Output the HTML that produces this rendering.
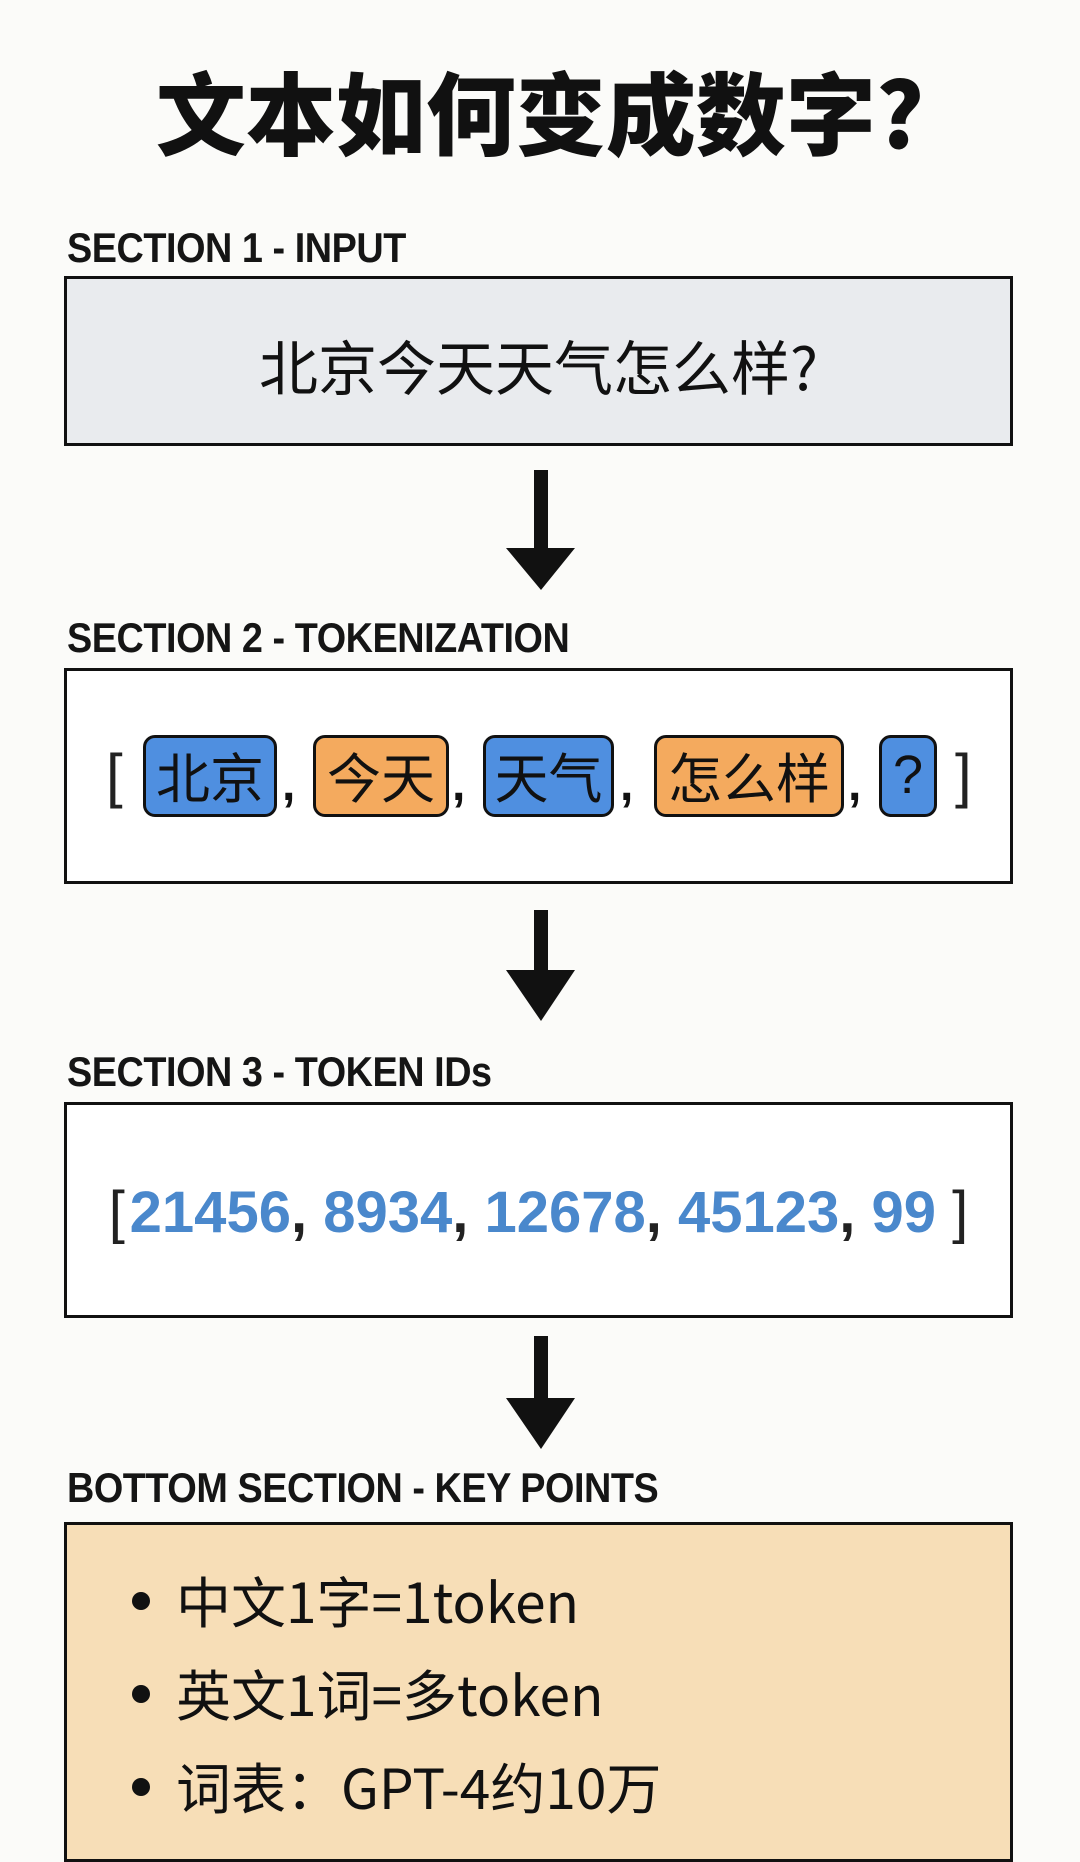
<!DOCTYPE html>
<html><head><meta charset="utf-8"><style>
body{margin:0;width:1080px;height:1839px;background:#fbfbf9;position:relative;overflow:hidden;font-family:"Liberation Sans","Noto Sans CJK SC",sans-serif;color:#111}
.a{position:absolute}
.title{left:0;width:1080px;top:56px;text-align:center;font:900 90px/106px "Noto Sans CJK SC",sans-serif;color:#111}
.lab{left:67px;font:bold 42px/44px "Liberation Sans",sans-serif;letter-spacing:-0.5px;color:#151515;transform:scaleX(0.9);transform-origin:left top;white-space:nowrap}
.box{left:64px;width:949px;border:3px solid #111;box-sizing:border-box}
.chip{top:735px;height:82px;border:3px solid #111;border-radius:12px;box-sizing:border-box;font:54px/74px "Noto Sans CJK SC",sans-serif;text-align:center;color:#111}
.b{background:#4f8fe0}.o{background:#f4aa5e}
.cm{top:760px;font:bold 48px/50px "Liberation Sans",sans-serif}
.kp{left:176px;font:55px/60px "Noto Sans CJK SC",sans-serif;color:#111}
.dot{left:132px;width:18px;height:18px;border-radius:50%;background:#111}
.br{font:60px/60px "Liberation Sans",sans-serif;color:#222}
</style></head><body>
<div class="a title">文本如何变成数字?</div>

<div class="a lab" style="top:226px">SECTION 1 - INPUT</div>
<div class="a box" style="top:276px;height:170px;background:#e9ebee"></div>
<div class="a" style="left:64px;width:949px;top:326px;text-align:center;font:59px/78px 'Noto Sans CJK SC',sans-serif">北京今天天气怎么样?</div>

<svg class="a" style="left:0;top:0" width="1080" height="1839">
<g fill="#111">
<rect x="534" y="470" width="14" height="90"/><polygon points="506,548 575,548 541,590"/>
<rect x="534" y="910" width="14" height="72"/><polygon points="506,970 575,970 541,1021"/>
<rect x="534" y="1336" width="14" height="74"/><polygon points="506,1398 575,1398 541,1449"/>
</g></svg>

<div class="a lab" style="top:616px">SECTION 2 - TOKENIZATION</div>
<div class="a box" style="top:668px;height:216px;background:#fff"></div>
<div class="a br" style="left:106px;top:746px">[</div>
<div class="a chip b" style="left:143px;width:134px">北京</div>
<div class="a cm" style="left:282px">,</div>
<div class="a chip o" style="left:313px;width:136px">今天</div>
<div class="a cm" style="left:452px">,</div>
<div class="a chip b" style="left:483px;width:131px">天气</div>
<div class="a cm" style="left:620px">,</div>
<div class="a chip o" style="left:654px;width:190px">怎么样</div>
<div class="a cm" style="left:848px">,</div>
<div class="a chip b" style="left:879px;width:58px;font-family:'Liberation Sans',sans-serif">?</div>
<div class="a br" style="left:955px;top:746px">]</div>

<div class="a lab" style="top:1050px">SECTION 3 - TOKEN IDs</div>
<div class="a box" style="top:1102px;height:216px;background:#fff"></div>
<div class="a" style="left:64px;width:949px;top:1180px;text-align:center;font:bold 58px/66px 'Liberation Sans',sans-serif;color:#222"><span style="font-weight:normal">[</span>&#8202;<span style="color:#4a88cc">21456</span>, <span style="color:#4a88cc">8934</span>, <span style="color:#4a88cc">12678</span>, <span style="color:#4a88cc">45123</span>, <span style="color:#4a88cc">99</span> <span style="font-weight:normal">]</span></div>

<div class="a lab" style="top:1466px">BOTTOM SECTION - KEY POINTS</div>
<div class="a box" style="top:1522px;height:340px;background:#f7deb7"></div>
<div class="a dot" style="top:1592px"></div><div class="a kp" style="top:1569px">中文1字=1token</div>
<div class="a dot" style="top:1685px"></div><div class="a kp" style="top:1662px">英文1词=多token</div>
<div class="a dot" style="top:1778px"></div><div class="a kp" style="top:1755px">词表：GPT-4约10万</div>
</body></html>
